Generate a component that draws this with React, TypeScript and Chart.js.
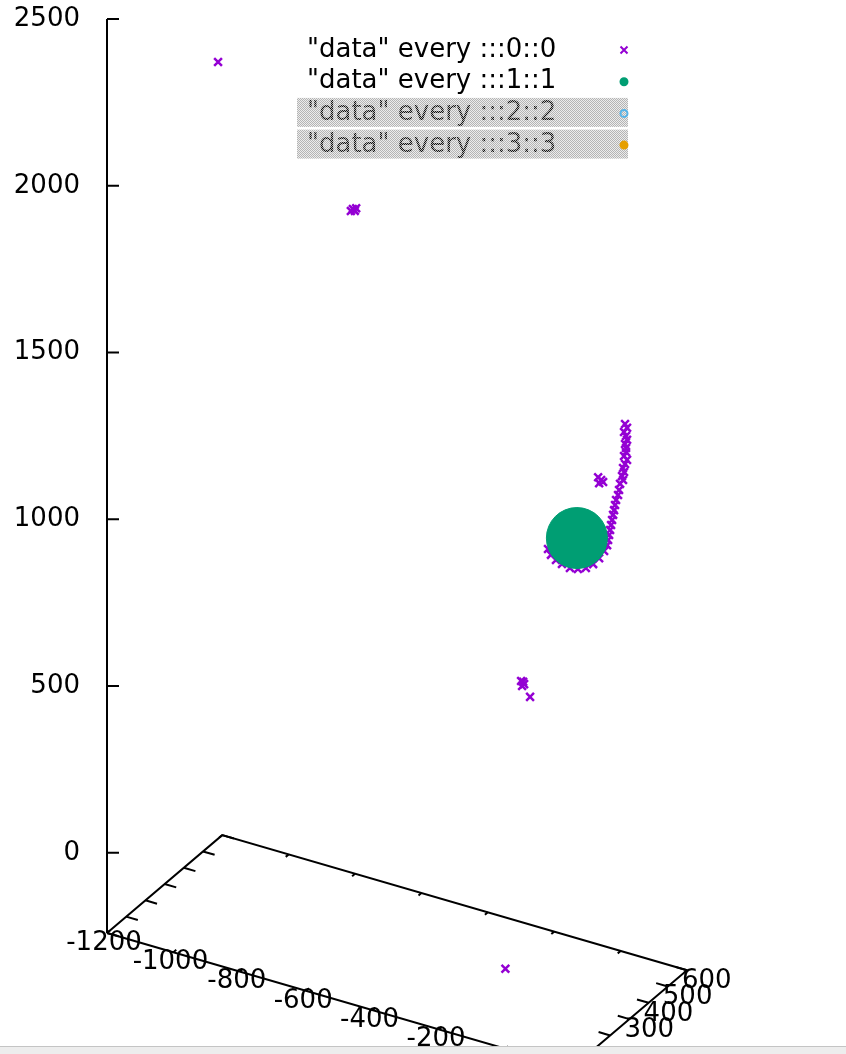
import React, { useEffect, useRef } from 'react';
import { Chart, registerables } from 'chart.js';

Chart.register(...registerables);

// ---- axis ranges and ticks (gnuplot splot box) ----
const X_RANGE = [-1200, 200];
const Y_RANGE = [0, 600];
const Z_RANGE = [0, 2500];
const Z_BASE = -240; // base plane level (ticslevel)
const X_TICKS = [-1200, -1000, -800, -600, -400, -200, 0, 200];
const Y_TICKS = [0, 100, 200, 300, 400, 500, 600];
const Z_TICKS = [0, 500, 1000, 1500, 2000, 2500];

const SERIES_LABELS = [
  '"data" every :::0::0',
  '"data" every :::1::1',
  '"data" every :::2::2',
  '"data" every :::3::3',
];

// ---- block 0 (purple crosses) ----
const S0_X = [
  -1039, -633, -623, -639, -627,
  0,
  -184, -175, -181, -178, -157,
  129, 135, 126, 132, 135, 129, 132, 132, 126, 135, 129, 123, 126, 120, 123,
  114, 111, 108, 102, 99, 96, 93, 90, 87, 84, 81,
  78, 75, 66, 51, 33, 11, -13, -37, -61, -79, -94, -103,
  48, 57, 63, 51,
];
const S0_Y = [
  300, 300, 300, 300, 300,
  0,
  400, 400, 400, 400, 400,
  400, 400, 400, 400, 400, 400, 400, 400, 400, 400, 400, 400, 400, 400, 400,
  400, 400, 400, 400, 400, 400, 400, 400, 400, 400, 400,
  400, 400, 400, 400, 400, 400, 400, 400, 400, 400, 400, 400,
  400, 400, 400, 400,
];
const S0_Z = [
  2271, 1948, 1953, 1940, 1944,
  0,
  614, 607, 600, 613, 574,
  1475, 1465, 1450, 1440, 1429, 1415, 1404, 1392, 1378, 1369, 1355, 1341, 1330, 1316, 1305,
  1291, 1272, 1256, 1239, 1223, 1207, 1192, 1176, 1160, 1144, 1128,
  1112, 1096, 1076, 1050, 1027, 1009, 999, 995, 1000, 1007, 1018, 1033,
  1292, 1286, 1282, 1275,
];

// ---- block 1 (green) ----
const S1_X = [-16];
const S1_Y = [400];
const S1_Z = [1091];

// ---- blocks 2 and 3 (toggled off in the key) ----
const S2_X: number[] = [];
const S2_Y: number[] = [];
const S2_Z: number[] = [];
const S3_X: number[] = [];
const S3_Y: number[] = [];
const S3_Z: number[] = [];

// ---- view (projection of the 3D box onto the page) ----
const VIEW = { xu: 0.332, yu: 0.192, xv: -0.2893, yv: 0.4886 };
const U_MAX = 739;
const V_MIN = -603;

const FONT = '26px "DejaVu Sans", sans-serif';
const VISIBLE_BOTTOM = 1046;

function project(x: number, y: number, z: number) {
  const dx = x - X_RANGE[0];
  const dy = y - Y_RANGE[0];
  return { x: dx * VIEW.xu + dy * VIEW.yu, y: z + dx * VIEW.xv + dy * VIEW.yv };
}

function points(xs: number[], ys: number[], zs: number[]) {
  return xs.map((x, i) => project(x, ys[i], zs[i]));
}

function checker(ctx: CanvasRenderingContext2D, a: string, b: string) {
  const c = document.createElement('canvas');
  c.width = 2;
  c.height = 2;
  const g = c.getContext('2d')!;
  g.fillStyle = b;
  g.fillRect(0, 0, 2, 2);
  g.fillStyle = a;
  g.fillRect(0, 0, 1, 1);
  g.fillRect(1, 1, 1, 1);
  return ctx.createPattern(c, 'repeat')!;
}

const decorPlugin = {
  id: 'gnuplotDecor',
  afterDatasetsDraw(chart: any) {
    const ctx: CanvasRenderingContext2D = chart.ctx;
    const xs = chart.scales.x;
    const ys = chart.scales.y;
    const P = (x: number, y: number, z: number) => {
      const p = project(x, y, z);
      return [xs.getPixelForValue(p.x), ys.getPixelForValue(p.y)];
    };
    const [x0, x1] = X_RANGE;
    const [y0, y1] = Y_RANGE;
    const xtl = 0.025 * (y1 - y0);
    const ytl = 0.025 * (x1 - x0);

    ctx.save();
    ctx.strokeStyle = '#000';
    ctx.lineWidth = 2;
    ctx.beginPath();
    // z ticks (inward)
    Z_TICKS.forEach((z) => {
      const [px, py] = P(x0, y0, z);
      ctx.moveTo(px, py);
      ctx.lineTo(px + 12, py);
    });
    // x ticks on front and back edges
    X_TICKS.forEach((x) => {
      let a = P(x, y0, Z_BASE), b = P(x, y0 + xtl, Z_BASE);
      ctx.moveTo(a[0], a[1]); ctx.lineTo(b[0], b[1]);
      a = P(x, y1, Z_BASE); b = P(x, y1 - xtl, Z_BASE);
      ctx.moveTo(a[0], a[1]); ctx.lineTo(b[0], b[1]);
    });
    // y ticks on right and left edges
    Y_TICKS.forEach((y) => {
      let a = P(x1, y, Z_BASE), b = P(x1 - ytl, y, Z_BASE);
      ctx.moveTo(a[0], a[1]); ctx.lineTo(b[0], b[1]);
      a = P(x0, y, Z_BASE); b = P(x0 + ytl, y, Z_BASE);
      ctx.moveTo(a[0], a[1]); ctx.lineTo(b[0], b[1]);
    });
    ctx.stroke();

    // tick labels of base axes (labels falling past the window edge are not shown)
    ctx.fillStyle = '#000';
    ctx.font = FONT;
    ctx.textBaseline = 'middle';
    ctx.textAlign = 'center';
    X_TICKS.forEach((x) => {
      const [px, py] = P(x, y0, Z_BASE);
      if (py + 10 < VISIBLE_BOTTOM) ctx.fillText(String(x), px - 3, py + 10);
    });
    ctx.textAlign = 'left';
    Y_TICKS.forEach((y) => {
      const [px, py] = P(x1, y, Z_BASE);
      if (py + 11 < VISIBLE_BOTTOM - 8) ctx.fillText(String(y), px - 5, py + 11);
    });

    // key
    const keyDs = chart.data.datasets.filter((d: any) => !d.frame);
    const textX = 307;
    const symX = 624;
    keyDs.forEach((ds: any, i: number) => {
      const cy = 50 + i * 31.7;
      if (ds.hidden) {
        ctx.fillStyle = checker(ctx, '#b4b4b4', '#ececec');
        ctx.fillRect(297, cy - 15.5, 331, 29);
        ctx.fillStyle = checker(ctx, '#111', '#b8b8b8');
      } else {
        ctx.fillStyle = '#000';
      }
      ctx.textAlign = 'left';
      ctx.fillText(ds.label, textX, cy);
      ctx.lineWidth = 2;
      if (ds.pointStyle === 'crossRot') {
        const r = 3.5;
        ctx.strokeStyle = ds.borderColor;
        ctx.beginPath();
        ctx.moveTo(symX - r, cy - r); ctx.lineTo(symX + r, cy + r);
        ctx.moveTo(symX + r, cy - r); ctx.lineTo(symX - r, cy + r);
        ctx.stroke();
      } else {
        ctx.beginPath();
        ctx.arc(symX, cy, 3.5, 0, Math.PI * 2);
        if (ds.backgroundColor !== 'transparent') {
          ctx.fillStyle = ds.backgroundColor;
          ctx.fill();
        }
        ctx.strokeStyle = ds.borderColor;
        ctx.stroke();
      }
    });

    // window bottom strip
    ctx.fillStyle = '#ededed';
    ctx.fillRect(0, VISIBLE_BOTTOM, 846, 1054 - VISIBLE_BOTTOM);
    ctx.strokeStyle = '#c4c4c4';
    ctx.lineWidth = 1;
    ctx.beginPath();
    ctx.moveTo(0, VISIBLE_BOTTOM + 0.5);
    ctx.lineTo(846, VISIBLE_BOTTOM + 0.5);
    ctx.stroke();
    ctx.restore();
  },
};

export default function App() {
  const ref = useRef<HTMLCanvasElement>(null);

  useEffect(() => {
    if (!ref.current) return;
    const [x0, x1] = X_RANGE;
    const [y0, y1] = Y_RANGE;
    const baseFrame = [
      project(x0, y0, Z_BASE),
      project(x0, y1, Z_BASE),
      project(x1, y1, Z_BASE),
      project(x1, y0, Z_BASE),
      project(x0, y0, Z_BASE),
    ];
    const zAxisLine = [project(x0, y0, Z_BASE), project(x0, y0, Z_RANGE[1])];

    const chart = new Chart(ref.current, {
      type: 'scatter',
      data: {
        datasets: [
          {
            label: SERIES_LABELS[0],
            data: points(S0_X, S0_Y, S0_Z),
            pointStyle: 'crossRot',
            pointRadius: 5.5,
            borderWidth: 2.5,
            borderColor: '#9400d3',
            backgroundColor: '#9400d3',
            clip: false,
            order: 2,
          },
          {
            label: SERIES_LABELS[1],
            data: points(S1_X, S1_Y, S1_Z),
            pointStyle: 'circle',
            pointRadius: 30.5,
            borderWidth: 1,
            borderColor: '#009e73',
            backgroundColor: '#009e73',
            clip: false,
            order: 1,
          },
          {
            label: SERIES_LABELS[2],
            data: points(S2_X, S2_Y, S2_Z),
            pointStyle: 'circle',
            pointRadius: 4,
            borderWidth: 2,
            borderColor: '#56b4e9',
            backgroundColor: 'transparent',
            hidden: true,
            order: 3,
          },
          {
            label: SERIES_LABELS[3],
            data: points(S3_X, S3_Y, S3_Z),
            pointStyle: 'circle',
            pointRadius: 4,
            borderWidth: 2,
            borderColor: '#e69f00',
            backgroundColor: '#e69f00',
            hidden: true,
            order: 4,
          },
          {
            label: 'base',
            frame: true,
            data: baseFrame,
            showLine: true,
            pointRadius: 0,
            borderColor: '#000',
            borderWidth: 2,
            clip: false,
            order: 10,
          } as any,
          {
            label: 'zaxis',
            frame: true,
            data: zAxisLine,
            showLine: true,
            pointRadius: 0,
            borderColor: '#000',
            borderWidth: 2,
            clip: false,
            order: 11,
          } as any,
        ],
      },
      options: {
        animation: false,
        responsive: false,
        events: [],
        layout: { autoPadding: false, padding: { top: 19, bottom: 0, left: 0, right: 0 } },
        plugins: { legend: { display: false }, tooltip: { enabled: false } },
        scales: {
          x: { type: 'linear', display: false, min: 0, max: U_MAX },
          y: {
            type: 'linear',
            min: V_MIN,
            max: Z_RANGE[1],
            afterBuildTicks: (s: any) => {
              s.ticks = Z_TICKS.map((v) => ({ value: v }));
            },
            afterFit: (s: any) => {
              s.width = 107;
              s.paddingTop = 0;
              s.paddingBottom = 0;
            },
            grid: { display: false, drawTicks: false },
            border: { display: false },
            ticks: {
              padding: 27,
              color: '#000',
              font: { family: '"DejaVu Sans", sans-serif', size: 26 },
              callback: (v: any) => String(v),
            },
          },
        },
      },
      plugins: [decorPlugin],
    } as any);
    return () => chart.destroy();
  }, []);

  return (
    <div style={{ position: 'absolute', left: 0, top: 0, width: 846, height: 1054, background: '#fff' }}>
      <canvas ref={ref} width={846} height={1054} style={{ display: 'block' }} />
    </div>
  );
}
